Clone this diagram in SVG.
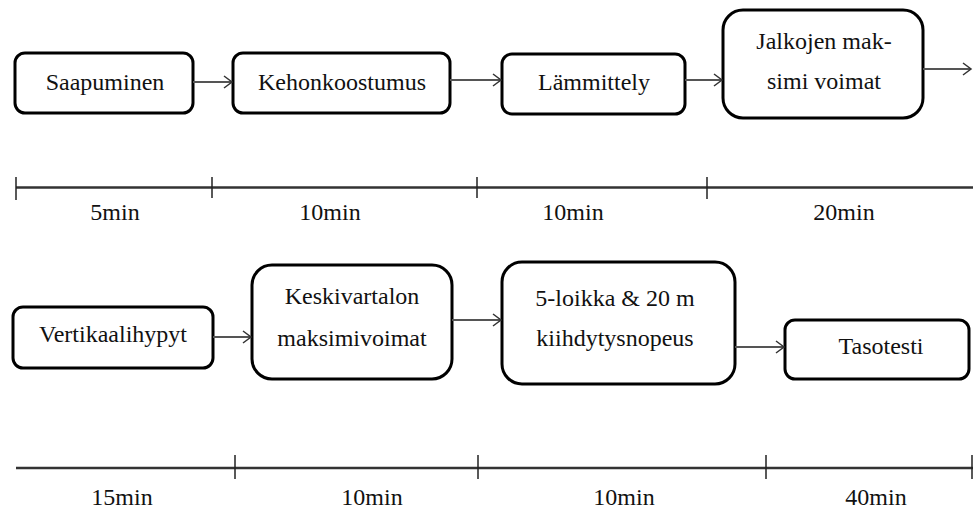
<svg xmlns="http://www.w3.org/2000/svg" width="973" height="512" viewBox="0 0 973 512">
<defs>
<marker id="arr" markerWidth="12" markerHeight="14" refX="10" refY="7" orient="auto" markerUnits="userSpaceOnUse">
<path d="M2,1 L10,7 L2,13" fill="none" stroke="#333" stroke-width="1.5"/>
</marker>
<style>
.box{fill:#fff;stroke:#000;stroke-width:3}
.t{font-size:24px;fill:#111;text-anchor:middle}
.c{stroke:#555;stroke-width:2;fill:none}
.tl{stroke:#333;stroke-width:2.5;fill:none}
.tk{stroke:#222;stroke-width:1.5}
</style>
</defs>
<rect width="973" height="512" fill="#fff"/>
<g font-family="Liberation Serif, Tinos, Times New Roman, Times, serif">
<g id="n1"><rect class="box" x="15" y="53" width="178" height="60" rx="10"/><text class="t" x="105" y="90">Saapuminen</text></g>
<g id="n2"><rect class="box" x="233" y="53" width="217" height="60" rx="10"/><text class="t" x="342" y="90">Kehonkoostumus</text></g>
<g id="n3"><rect class="box" x="502" y="54" width="183" height="60" rx="10"/><text class="t" x="594" y="90">Lämmittely</text></g>
<g id="n4"><rect class="box" x="723" y="10" width="200" height="108" rx="20"/><text class="t" x="824" y="49">Jalkojen mak-</text><text class="t" x="824" y="89">simi voimat</text></g>
<g id="n5"><rect class="box" x="13" y="307" width="200" height="61" rx="10"/><text class="t" x="113" y="342">Vertikaalihypyt</text></g>
<g id="n6"><rect class="box" x="252" y="265" width="200" height="114" rx="20"/><text class="t" x="352" y="304">Keskivartalon</text><text class="t" x="352" y="346">maksimivoimat</text></g>
<g id="n7"><rect class="box" x="502" y="262" width="233" height="122" rx="20"/><text class="t" x="615" y="306">5-loikka &amp; 20 m</text><text class="t" x="615" y="346">kiihdytysnopeus</text></g>
<g id="n8"><rect class="box" x="785" y="320" width="184" height="59" rx="10"/><text class="t" x="881" y="354">Tasotesti</text></g>
<g id="connectors">
<line class="c" x1="193" y1="82" x2="232" y2="82" marker-end="url(#arr)"/>
<line class="c" x1="450" y1="80" x2="501" y2="80" marker-end="url(#arr)"/>
<line class="c" x1="685" y1="80" x2="722" y2="80" marker-end="url(#arr)"/>
<line class="c" x1="923" y1="69" x2="971" y2="69" marker-end="url(#arr)"/>
<line class="c" x1="213" y1="337" x2="251" y2="337" marker-end="url(#arr)"/>
<line class="c" x1="452" y1="320" x2="501" y2="320" marker-end="url(#arr)"/>
<line class="c" x1="735" y1="347" x2="784" y2="347" marker-end="url(#arr)"/>
</g>
<g id="timeline1">
<line class="tl" x1="16" y1="187.5" x2="973" y2="187.5"/>
<line class="tk" x1="16" y1="177" x2="16" y2="200"/>
<line class="tk" x1="212" y1="177" x2="212" y2="198"/>
<line class="tk" x1="477" y1="177" x2="477" y2="198"/>
<line class="tk" x1="707" y1="177" x2="707" y2="199"/>
<text class="t" x="115" y="220">5min</text>
<text class="t" x="330" y="220">10min</text>
<text class="t" x="573" y="220">10min</text>
<text class="t" x="844" y="220">20min</text>
</g>
<g id="timeline2">
<line class="tl" x1="16" y1="468" x2="973" y2="468"/>
<line class="tk" x1="235" y1="455" x2="235" y2="479"/>
<line class="tk" x1="478" y1="455" x2="478" y2="479"/>
<line class="tk" x1="766" y1="455" x2="766" y2="479"/>
<line class="tk" x1="972" y1="455" x2="972" y2="479"/>
<text class="t" x="122" y="505">15min</text>
<text class="t" x="372" y="505">10min</text>
<text class="t" x="624" y="505">10min</text>
<text class="t" x="876" y="505">40min</text>
</g>
</g>
</svg>
